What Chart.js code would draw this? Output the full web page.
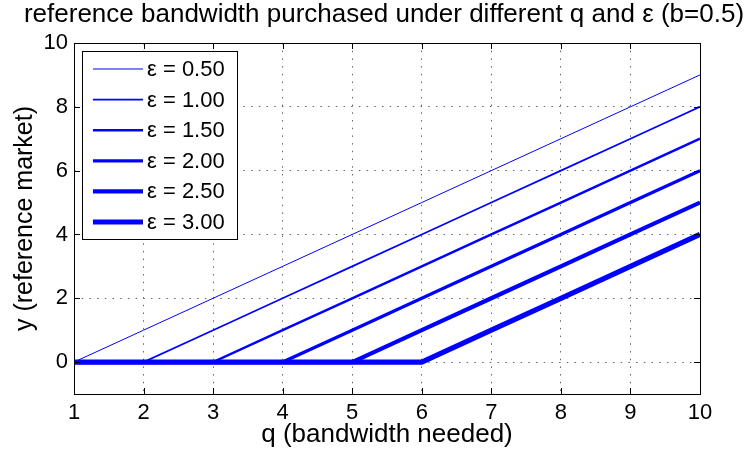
<!DOCTYPE html>
<html>
<head>
<meta charset="utf-8">
<script src="https://cdn.jsdelivr.net/npm/chart.js@4.4.1/dist/chart.umd.min.js"></script>
<style>
  html, body { margin: 0; padding: 0; background: #ffffff; }
  #wrap { width: 750px; height: 454px; position: relative; }
</style>
</head>
<body>
<div id="wrap"><canvas id="c" width="750" height="454"></canvas></div>
<script>
// Bandwidth needed (q)
const qValues = [1, 2, 3, 4, 5, 6, 7, 8, 9, 10];
// Epsilon levels, one line each
const epsilons = [0.5, 1.0, 1.5, 2.0, 2.5, 3.0];
// Reference-market bandwidth purchased, per epsilon
const yEps050 = [0, 1, 2, 3, 4, 5, 6, 7, 8, 9];
const yEps100 = [0, 0, 1, 2, 3, 4, 5, 6, 7, 8];
const yEps150 = [0, 0, 0, 1, 2, 3, 4, 5, 6, 7];
const yEps200 = [0, 0, 0, 0, 1, 2, 3, 4, 5, 6];
const yEps250 = [0, 0, 0, 0, 0, 1, 2, 3, 4, 5];
const yEps300 = [0, 0, 0, 0, 0, 0, 1, 2, 3, 4];
const seriesValues = [yEps050, yEps100, yEps150, yEps200, yEps250, yEps300];
const lineWidths = [1, 1.7, 2.5, 3.3, 4.2, 5.2];
// Axis ticks
const xTicks = [1, 2, 3, 4, 5, 6, 7, 8, 9, 10];
const yTicks = [0, 2, 4, 6, 8, 10];

const titleText = 'reference bandwidth purchased under different q and \u03b5 (b=0.5)';
const xTitle = 'q (bandwidth needed)';
const yTitle = 'y (reference market)';
const FONT = '"Liberation Sans", Arial, Helvetica, sans-serif';

const datasets = seriesValues.map((vals, i) => ({
  label: '\u03b5 = ' + epsilons[i].toFixed(2),
  data: vals.map((v, k) => ({ x: qValues[k], y: v })),
  borderColor: '#0000ff',
  backgroundColor: '#0000ff',
  borderWidth: lineWidths[i],
  pointRadius: 0,
  tension: 0,
  fill: false,
  borderJoinStyle: 'miter',
  borderCapStyle: 'butt',
  order: seriesValues.length - i
}));

// Frame, inward ticks, texts and the boxed legend
const decor = {
  id: 'decor',
  afterDatasetsDraw(chart) {
    const ctx = chart.ctx;
    const a = chart.chartArea;
    const xs = chart.scales.x, ys = chart.scales.y;
    ctx.save();
    // inward tick marks on all four sides
    ctx.strokeStyle = '#000';
    ctx.lineWidth = 1;
    const tl = 6;
    ctx.beginPath();
    xTicks.forEach(v => {
      const px = Math.round(xs.getPixelForValue(v)) + 0.5;
      ctx.moveTo(px, a.bottom); ctx.lineTo(px, a.bottom - tl);
      ctx.moveTo(px, a.top); ctx.lineTo(px, a.top + tl);
    });
    yTicks.forEach(v => {
      const py = Math.round(ys.getPixelForValue(v)) + 0.5;
      ctx.moveTo(a.left, py); ctx.lineTo(a.left + tl, py);
      ctx.moveTo(a.right, py); ctx.lineTo(a.right - tl, py);
    });
    ctx.stroke();
    // axes box
    ctx.strokeRect(Math.round(a.left) + 0.5, Math.round(a.top) + 0.5,
                   Math.round(a.right - a.left), Math.round(a.bottom - a.top));

    // legend box
    const lx = 82, ly = 51, lw = 155, lh = 188;
    ctx.fillStyle = '#fff';
    ctx.fillRect(lx, ly, lw, lh);
    ctx.strokeStyle = '#000';
    ctx.strokeRect(lx + 0.5, ly + 0.5, lw, lh);
    ctx.font = '22px ' + FONT;
    ctx.textBaseline = 'middle';
    ctx.textAlign = 'left';
    chart.data.datasets.forEach((ds, i) => {
      const cy = 69 + i * 30.6;
      ctx.strokeStyle = ds.borderColor;
      ctx.lineWidth = ds.borderWidth;
      ctx.beginPath();
      ctx.moveTo(93, cy); ctx.lineTo(143, cy);
      ctx.stroke();
      ctx.fillStyle = '#000';
      ctx.fillText(ds.label, 147, cy + 1);
    });

    // title and axis titles
    const cx = (a.left + a.right) / 2;
    ctx.fillStyle = '#000';
    ctx.textAlign = 'center';
    ctx.textBaseline = 'alphabetic';
    ctx.font = '26px ' + FONT;
    ctx.fillText(titleText, cx - 3, 22);
    ctx.fillText(xTitle, cx, 442);
    ctx.font = '25px ' + FONT;
    ctx.translate(32, (a.top + a.bottom) / 2);
    ctx.rotate(-Math.PI / 2);
    ctx.fillText(yTitle, 0, 0);
    ctx.restore();
  }
};

new Chart(document.getElementById('c'), {
  type: 'line',
  data: { datasets },
  options: {
    responsive: false,
    animation: false,
    devicePixelRatio: 1,
    layout: { padding: { top: 43, right: 50, left: 0, bottom: 0 } },
    plugins: { legend: { display: false }, title: { display: false }, tooltip: { enabled: false } },
    scales: {
      x: {
        type: 'linear', min: 1, max: 10,
        afterBuildTicks: s => { s.ticks = xTicks.map(v => ({ value: v })); },
        afterFit: s => { s.height = 60; },
        border: { display: false, dash: [1.5, 6.2] },
        grid: {
          color: ctx => (ctx.tick && (ctx.tick.value === 1 || ctx.tick.value === 10)) ? 'rgba(0,0,0,0)' : '#666',
          lineWidth: 1, drawTicks: false
        },
        ticks: { font: { family: FONT, size: 22 }, color: '#000', padding: 6, maxRotation: 0, autoSkip: false }
      },
      y: {
        type: 'linear', min: -1, max: 10,
        afterBuildTicks: s => { s.ticks = yTicks.map(v => ({ value: v })); },
        afterFit: s => { s.width = 74; },
        border: { display: false, dash: [1.5, 6.2] },
        grid: {
          color: ctx => (ctx.tick && ctx.tick.value === 10) ? 'rgba(0,0,0,0)' : '#666',
          lineWidth: 1, drawTicks: false
        },
        ticks: { font: { family: FONT, size: 22 }, color: '#000', padding: 6, autoSkip: false }
      }
    }
  },
  plugins: [decor]
});
</script>
</body>
</html>
